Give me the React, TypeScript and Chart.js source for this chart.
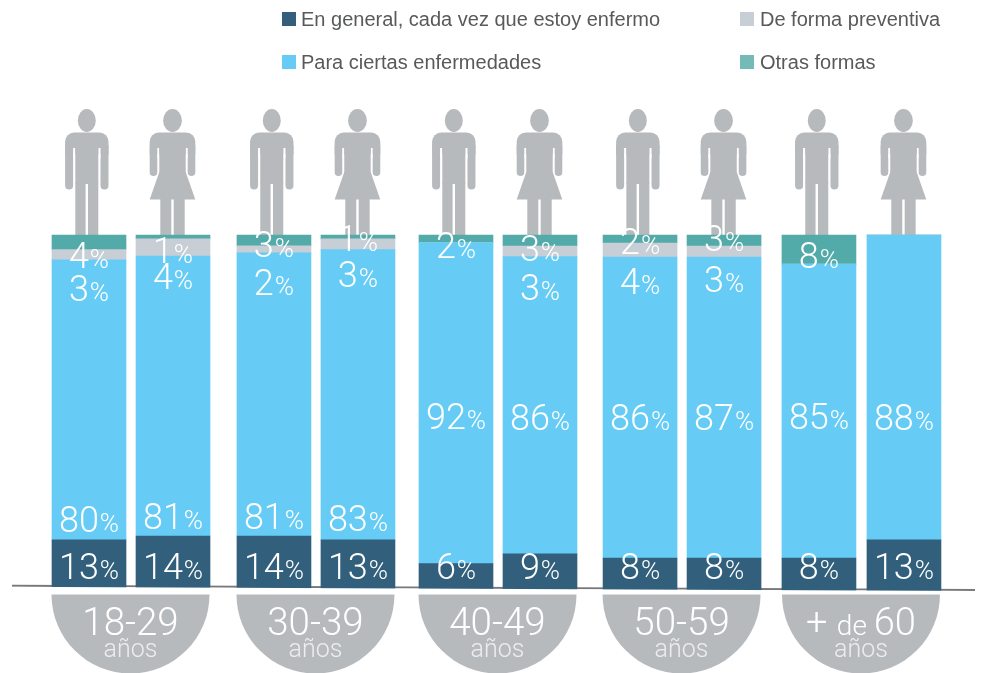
import React, { useEffect, useRef } from "react";
import { Chart, registerables } from "chart.js";

Chart.register(...registerables);

// ---- data ----
const ageGroups = ["18-29", "30-39", "40-49", "50-59", "+ de 60"];
const people = ["H 18-29", "M 18-29", "H 30-39", "M 30-39", "H 40-49", "M 40-49", "H 50-59", "M 50-59", "H 60+", "M 60+"];

// heights of the drawn segments
const enGeneral = [12.9, 14, 14, 12.9, 6.1, 8.9, 7.7, 7.7, 7.7, 12.9];
const ciertas = [80, 80, 80.9, 82.9, 91.7, 84.9, 86, 86, 84, 87.1];
const preventiva = [2.9, 4.9, 2, 3.1, 0, 3.05, 4, 3.15, 0, 0];
const otras = [4.2, 1.1, 3.1, 1.1, 2.2, 3.15, 2.3, 3.15, 8.3, 0];

// percentages printed on the bars
const pctGeneral = [13, 14, 14, 13, 6, 9, 8, 8, 8, 13];
const pctCiertas = [80, 81, 81, 83, 92, 86, 86, 87, 85, 88];
const pctPreventiva = [3, 4, 2, 3, null, 3, 4, 3, null, null];
const pctOtras = [4, 1, 3, 1, 2, 3, 2, 3, 8, null];

// ---- layout (not data) ----
const SLOT = [0, 1, 2.202, 3.202, 4.369, 5.369, 6.56, 7.56, 8.69, 9.702];
const COLORS = { general: "#32607C", ciertas: "#66CCF6", preventiva: "#C7CED6", otras: "#52ABA9" };
const LEGEND = [
  { label: "En general, cada vez que estoy enfermo", color: "#335F7C", x: 282, y: 19 },
  { label: "De forma preventiva", color: "#C7CED6", x: 740, y: 19 },
  { label: "Para ciertas enfermedades", color: "#66CCF6", x: 282, y: 62 },
  { label: "Otras formas", color: "#74BBB8", x: 740, y: 62 },
];
const Y_GENERAL = 566;
const Y_CIERTAS = [519, 516, 516, 518, 416, 417, 417, 417, 416, 417];
const Y_PREVENTIVA = [288, 276, 282, 274, 0, 287.5, 281, 279, 0, 0];
const Y_OTRAS = [255, 250, 244, 238, 245, 248.5, 241, 238, 255, 0];
const GRAY = "#B7BABD";
const FONT = "Roboto, 'Liberation Sans', sans-serif";
const lineY = (x: number) => 585.7 + ((x - 12) * 4.3) / 963;

function male(ctx: CanvasRenderingContext2D, cx: number) {
  ctx.beginPath();
  ctx.ellipse(cx, 120.5, 9, 11.4, 0, 0, Math.PI * 2);
  ctx.fill();
  ctx.beginPath();
  ctx.roundRect(cx - 21.7, 132.5, 43.4, 22, [9, 9, 0, 0]);
  ctx.fill();
  ctx.beginPath();
  ctx.roundRect(cx - 21.7, 145, 8, 44.5, [0, 0, 4, 4]);
  ctx.roundRect(cx + 13.7, 145, 8, 44.5, [0, 0, 4, 4]);
  ctx.fill();
  ctx.fillStyle = "#FFFFFF";
  ctx.fillRect(cx - 13.7, 148, 2.2, 10);
  ctx.fillRect(cx + 11.5, 148, 2.2, 10);
  ctx.fillStyle = GRAY;
  ctx.fillRect(cx - 11.5, 145, 23, 39);
  ctx.fillRect(cx - 11.5, 183, 10.3, 53);
  ctx.fillRect(cx + 1.2, 183, 10.3, 53);
}

function female(ctx: CanvasRenderingContext2D, cx: number) {
  ctx.beginPath();
  ctx.ellipse(cx, 120.5, 9.4, 11.4, 0, 0, Math.PI * 2);
  ctx.fill();
  ctx.beginPath();
  ctx.roundRect(cx - 22.8, 132.5, 45.6, 22, [9, 9, 0, 0]);
  ctx.fill();
  ctx.beginPath();
  ctx.roundRect(cx - 22.8, 145, 7.6, 31, [0, 0, 4, 4]);
  ctx.roundRect(cx + 15.2, 145, 7.6, 31, [0, 0, 4, 4]);
  ctx.fill();
  ctx.fillStyle = "#FFFFFF";
  ctx.fillRect(cx - 15.2, 148, 2, 10);
  ctx.fillRect(cx + 13.2, 148, 2, 10);
  ctx.fillStyle = GRAY;
  ctx.fillRect(cx - 13.2, 145, 26.4, 32);
  ctx.beginPath();
  ctx.moveTo(cx - 13.2, 172);
  ctx.lineTo(cx + 13.2, 172);
  ctx.lineTo(cx + 22.8, 199.5);
  ctx.lineTo(cx - 22.8, 199.5);
  ctx.closePath();
  ctx.fill();
  ctx.fillRect(cx - 12.2, 199, 11, 37);
  ctx.fillRect(cx + 1.2, 199, 11, 37);
}

function pct(ctx: CanvasRenderingContext2D, value: number | null, cx: number, y: number) {
  if (value === null) return;
  const num = String(value);
  ctx.textAlign = "left";
  ctx.textBaseline = "alphabetic";
  ctx.fillStyle = "#FFFFFF";
  ctx.font = `300 36px ${FONT}`;
  const w1 = ctx.measureText(num).width;
  ctx.font = `300 26px ${FONT}`;
  const w2 = ctx.measureText("%").width;
  const left = cx - (w1 + w2 + 1) / 2;
  ctx.font = `300 36px ${FONT}`;
  ctx.fillText(num, left, y + 12.5);
  ctx.font = `300 26px ${FONT}`;
  ctx.fillText("%", left + w1 + 1, y + 12.5);
}

const artwork = {
  id: "artwork",
  beforeDatasetsDraw(chart: any) {
    const { ctx, scales } = chart;
    ctx.save();
    // figures standing on the bars
    SLOT.forEach((s, i) => {
      const cx = scales.x.getPixelForValue(s);
      ctx.fillStyle = GRAY;
      if (i % 2 === 0) male(ctx, cx - 2.2);
      else female(ctx, cx - 0.5);
    });
    // slanted ground line
    ctx.strokeStyle = "#77787A";
    ctx.lineWidth = 2;
    ctx.beginPath();
    ctx.moveTo(12, lineY(12));
    ctx.lineTo(975, lineY(975));
    ctx.stroke();
    ctx.restore();
  },
  afterDatasetsDraw(chart: any) {
    const { ctx, scales, width, height } = chart;
    ctx.save();
    // everything under the ground line is page background
    ctx.fillStyle = "#FFFFFF";
    ctx.beginPath();
    ctx.moveTo(0, lineY(0) + 1);
    ctx.lineTo(width, lineY(width) + 1);
    ctx.lineTo(width, height);
    ctx.lineTo(0, height);
    ctx.closePath();
    ctx.fill();

    // age half discs
    ageGroups.forEach((g, i) => {
      const a = scales.x.getPixelForValue(SLOT[i * 2]);
      const b = scales.x.getPixelForValue(SLOT[i * 2 + 1]);
      const cx = (a + b) / 2 - 0.5;
      ctx.fillStyle = GRAY;
      ctx.beginPath();
      ctx.arc(cx, 594.5, 79, 0, Math.PI);
      ctx.closePath();
      ctx.fill();
      ctx.fillStyle = "#FFFFFF";
      ctx.textBaseline = "alphabetic";
      if (g.startsWith("+")) {
        const parts = [
          { t: "+ ", f: 38 },
          { t: "de ", f: 28 },
          { t: "60", f: 38 },
        ];
        let total = 0;
        parts.forEach((p) => {
          ctx.font = `300 ${p.f}px ${FONT}`;
          total += ctx.measureText(p.t).width;
        });
        let x = cx - total / 2;
        ctx.textAlign = "left";
        parts.forEach((p) => {
          ctx.font = `300 ${p.f}px ${FONT}`;
          ctx.fillText(p.t, x, 635);
          x += ctx.measureText(p.t).width;
        });
      } else {
        ctx.textAlign = "center";
        ctx.font = `300 38.5px ${FONT}`;
        ctx.fillText(g, cx, 635);
      }
      ctx.textAlign = "center";
      ctx.fillStyle = "#ECEDEE";
      ctx.font = `300 25px ${FONT}`;
      ctx.fillText("años", cx, 657);
    });

    // printed percentages
    SLOT.forEach((s, i) => {
      const cx = scales.x.getPixelForValue(s);
      pct(ctx, pctOtras[i], cx, Y_OTRAS[i]);
      pct(ctx, pctPreventiva[i], cx, Y_PREVENTIVA[i]);
      pct(ctx, pctCiertas[i], cx, Y_CIERTAS[i]);
      pct(ctx, pctGeneral[i], cx, Y_GENERAL);
    });

    // legend
    LEGEND.forEach((item) => {
      ctx.fillStyle = item.color;
      ctx.fillRect(item.x, item.y - 7, 14, 14);
      ctx.fillStyle = "#58595B";
      ctx.font = "20px 'Liberation Sans', sans-serif";
      ctx.textAlign = "left";
      ctx.textBaseline = "middle";
      ctx.fillText(item.label, item.x + (item.x > 500 ? 20 : 19), item.y + 1);
    });
    ctx.restore();
  },
};

export default function App() {
  const ref = useRef<HTMLCanvasElement>(null);
  useEffect(() => {
    if (!ref.current) return;
    const series = (label: string, values: number[], color: string, extra: object = {}) => ({
      label,
      data: values.map((v, i) => ({ x: SLOT[i], y: v })),
      backgroundColor: color,
      borderWidth: 0,
      barThickness: 74,
      ...extra,
    });
    const chart = new Chart(ref.current, {
      type: "bar",
      data: {
        labels: people,
        datasets: [
          series("En general, cada vez que estoy enfermo", enGeneral, COLORS.general, { base: -3 }),
          series("Para ciertas enfermedades", ciertas, COLORS.ciertas),
          series("De forma preventiva", preventiva, COLORS.preventiva),
          series("Otras formas", otras, COLORS.otras),
        ],
      },
      options: {
        responsive: false,
        animation: false,
        layout: { padding: 0 },
        plugins: { legend: { display: false }, tooltip: { enabled: false } },
        scales: {
          x: { type: "linear", stacked: true, display: false, offset: false, min: -89 / 84, max: (981 - 89) / 84, grid: { display: false } },
          y: { stacked: true, display: false, min: -88 / 3.5, max: 100 + 235 / 3.5, grid: { display: false } },
        },
      },
      plugins: [artwork],
    } as any);
    return () => chart.destroy();
  }, []);
  return (
    <div style={{ position: "absolute", left: 0, top: 0, width: 981, height: 673, background: "#fff" }}>
      <canvas ref={ref} width={981} height={673} style={{ display: "block" }} />
    </div>
  );
}
